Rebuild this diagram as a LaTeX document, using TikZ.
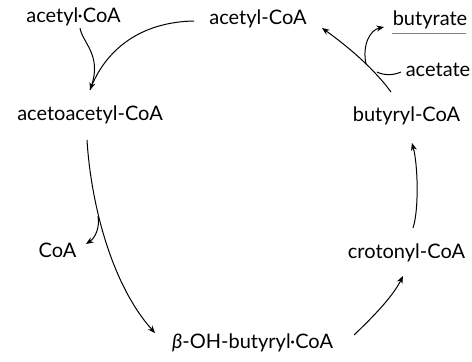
\documentclass[tikz,border=0pt]{standalone}
\usepackage{fontspec}
\setmainfont{Lato}
\usetikzlibrary{arrows.meta}
\begin{document}
\begin{tikzpicture}[x=1pt,y=-1pt,
  lbl/.style={inner sep=0pt,font=\fontsize{20}{24}\selectfont},
  conn/.style={line width=1pt},
  arr/.style={conn,-{Stealth[length=7.5pt,width=6pt]}}]
\useasboundingbox (0,0) rectangle (472,362);
\node[lbl] (acA) at (73.5,17) {acetyl·CoA};
\node[lbl] (acB) at (258,19) {acetyl-CoA};
\node[lbl] (aaC) at (90,115) {acetoacetyl-CoA};
\node[lbl] (buC) at (406.5,116) {butyryl-CoA};
\node[lbl] (coa) at (57.5,250) {CoA};
\node[lbl] (crC) at (406.5,253) {crotonyl-CoA};
\node[lbl] (bOH) at (252.5,343) {{\itshape β}-OH-butyryl·CoA};
\node[lbl] (but) at (430,20) {butyrate};
\node[lbl] (act) at (438,70) {acetate};
% named points
\coordinate (pA) at (80,28);
\coordinate (pB) at (194,21);
\coordinate (pAA) at (90,90);
\coordinate (pC) at (87,140);
\coordinate (jC) at (98,216);
\coordinate (pD) at (155,333);
\coordinate (pE) at (86,244);
\coordinate (pF) at (354,335);
\coordinate (pG) at (403,276);
\coordinate (pH) at (413,228);
\coordinate (pI) at (412,143);
\coordinate (pJ) at (391,92);
\coordinate (pK) at (322,28);
\coordinate (jAct) at (377,72);
\coordinate (pAct) at (401,72);
\coordinate (jBut) at (366,64);
\coordinate (pBut) at (384,27);
\draw[arr] (pA) .. controls (82,42) and (102,55) .. (pAA);
\draw[conn] (pB) .. controls (140,22) and (105,50) .. (pAA);
\draw[arr] (pC) .. controls (91,205) and (112,285) .. (pD);
\draw[arr] (jC) .. controls (100,228) and (95,238) .. (pE);
\draw[arr] (pF) .. controls (375,315) and (393,296) .. (pG);
\draw[arr] (pH) .. controls (419,210) and (418,165) .. (pI);
\draw[arr] (pJ) .. controls (375,70) and (350,48) .. (pK);
\draw[conn] (pAct) .. controls (392,76) and (383,75) .. (jAct);
\draw[arr] (jBut) .. controls (362,45) and (370,30) .. (pBut);
\draw[line width=0.8pt,gray] (392,33) -- (466,33);
\end{tikzpicture}
\end{document}
